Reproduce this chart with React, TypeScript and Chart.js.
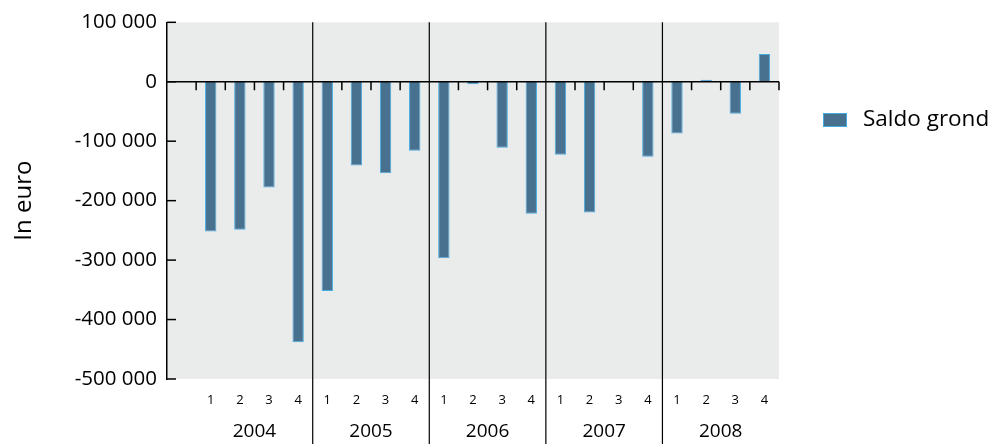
import { useEffect, useRef } from 'react';
import { Chart, registerables } from 'chart.js';

Chart.register(...registerables);

const years = ['2004', '2005', '2006', '2007', '2008'];
const quarters = ['1', '2', '3', '4'];
const seriesLabel = 'Saldo grond';
const saldoGrond = [
  -252000, -249000, -178000, -438000,
  -352000, -141000, -154000, -116000,
  -297000, -4000, -111000, -222000,
  -123000, -220000, -1000, -126000,
  -87000, 3500, -54000, 46500,
];
const yTickValues = [100000, 0, -100000, -200000, -300000, -400000, -500000];

const FONT = "'Open Sans', sans-serif";
const BAR_FILL = '#48708f';
const BAR_BORDER = '#45ace2';

function fmt(v: number): string {
  const s = String(Math.abs(v)).replace(/\B(?=(\d{3})+(?!\d))/g, ' ');
  return v < 0 ? '-' + s : s;
}

const decor = {
  id: 'decor',
  beforeDraw(chart: any) {
    const { ctx, chartArea: a } = chart;
    ctx.save();
    ctx.fillStyle = '#eaebeb';
    ctx.fillRect(a.left, a.top, a.right - a.left, a.bottom - a.top);
    ctx.restore();
  },
  afterDatasetsDraw(chart: any) {
    const { ctx, chartArea: a } = chart;
    const xs = chart.scales.x;
    const ys = chart.scales.y;
    const n = xs.getLabels().length;
    const step = (a.right - a.left) / n;
    const boundary = (i: number) => xs.getPixelForValue(Math.min(i, n - 1)) - step / 2 + (i > n - 1 ? step : 0);
    const y0 = ys.getPixelForValue(0);
    ctx.save();
    ctx.strokeStyle = '#000';
    ctx.lineWidth = 1.6;
    ctx.beginPath();
    ctx.moveTo(a.left, y0);
    ctx.lineTo(a.right, y0);
    ctx.stroke();
    for (let i = 1; i <= n; i++) {
      const bx = boundary(i);
      const isYear = i > 1 && i < n && (i - 1) % 4 === 0;
      ctx.beginPath();
      if (isYear) {
        ctx.lineWidth = 1.2;
        ctx.moveTo(bx, a.top);
        ctx.lineTo(bx, chart.height);
      } else {
        ctx.lineWidth = 1.5;
        ctx.moveTo(bx, y0);
        ctx.lineTo(bx, y0 + 8.5);
      }
      ctx.stroke();
    }
    ctx.lineWidth = 1.5;
    yTickValues.forEach((v) => {
      const py = ys.getPixelForValue(v);
      ctx.beginPath();
      ctx.moveTo(a.left, py);
      ctx.lineTo(a.left + 9, py);
      ctx.stroke();
    });
    ctx.fillStyle = '#000';
    ctx.font = `19px ${FONT}`;
    ctx.textAlign = 'center';
    ctx.textBaseline = 'middle';
    years.forEach((yr, k) => {
      const cx = (boundary(1 + 4 * k) + boundary(5 + 4 * k)) / 2;
      ctx.fillText(yr, cx, 432);
    });
    const ds = chart.data.datasets[0];
    const lx = a.right + 44;
    const ly = 113;
    ctx.fillStyle = ds.backgroundColor;
    ctx.fillRect(lx, ly, 24, 14);
    ctx.strokeStyle = ds.borderColor;
    ctx.lineWidth = 1;
    ctx.strokeRect(lx + 0.5, ly + 0.5, 23, 13);
    ctx.fillStyle = '#000';
    ctx.font = `22.5px ${FONT}`;
    ctx.textAlign = 'left';
    ctx.fillText(ds.label, lx + 40, ly + 7);
    ctx.restore();
  },
};

export default function App() {
  const ref = useRef<HTMLCanvasElement>(null);
  useEffect(() => {
    if (!ref.current) return;
    const labels = ['', ...years.flatMap(() => quarters)];
    const chart = new Chart(ref.current, {
      type: 'bar',
      data: {
        labels,
        datasets: [
          {
            label: seriesLabel,
            data: [null, ...saldoGrond],
            backgroundColor: BAR_FILL,
            borderColor: BAR_BORDER,
            borderWidth: 1,
            categoryPercentage: 1,
            barPercentage: 0.39,
          },
        ],
      },
      options: {
        animation: false,
        responsive: false,
        layout: { padding: { top: 21, right: 213, left: 0, bottom: 0 } },
        plugins: { legend: { display: false }, tooltip: { enabled: false } },
        scales: {
          x: {
            grid: { display: false, drawTicks: false },
            border: { display: false },
            ticks: { color: '#000', font: { family: FONT, size: 13 }, padding: 13, maxRotation: 0, autoSkip: false },
            afterFit: (s: any) => { s.height = 65; },
          },
          y: {
            min: -500000,
            max: 100000,
            grid: { display: false, drawTicks: false },
            border: { display: true, color: '#000', width: 1.5 },
            ticks: {
              stepSize: 100000,
              color: '#000',
              padding: 10,
              font: { family: FONT, size: 20.5 },
              callback: (v: any) => fmt(Number(v)),
            },
            title: {
              display: true,
              text: 'In euro',
              color: '#000',
              font: { family: FONT, size: 24 },
              padding: { top: 10, bottom: 0 },
            },
            afterFit: (s: any) => { s.width = 167; },
          },
        },
      },
      plugins: [decor],
    });
    return () => chart.destroy();
  }, []);
  return (
    <div style={{ position: 'absolute', left: 0, top: 0, width: 992, height: 444 }}>
      <canvas ref={ref} width={992} height={444} style={{ display: 'block' }} />
    </div>
  );
}
